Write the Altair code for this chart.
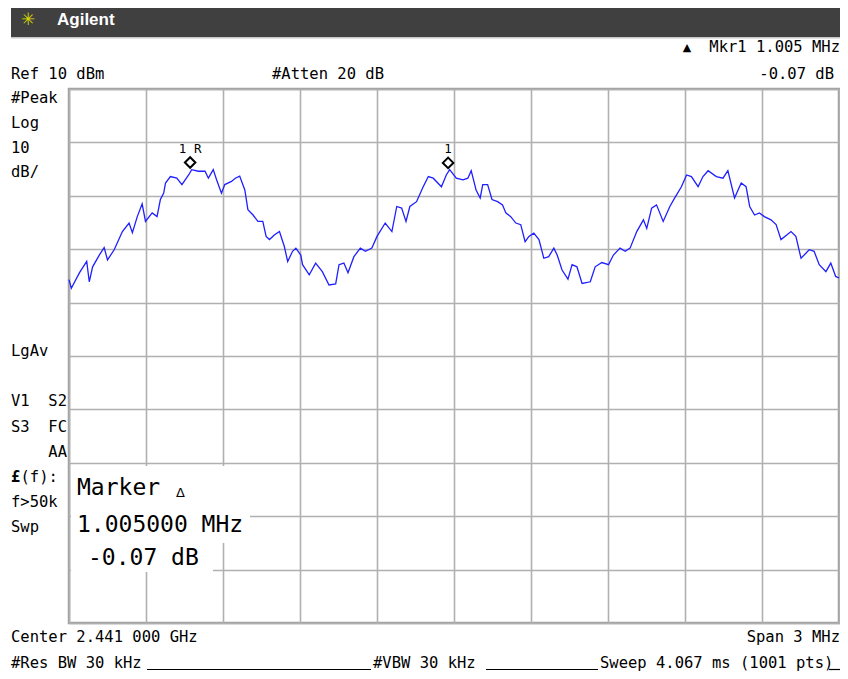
import altair as alt
import pandas as pd

# ---------------- data ----------------
# frequency offset from centre (MHz), centre = 2.441 GHz, span 3 MHz
freq_mhz = [
    -1.500, -1.491, -1.459, -1.431, -1.421, -1.408, -1.382, -1.363, -1.350, -1.324,
    -1.292, -1.266, -1.253, -1.234, -1.215, -1.202, -1.176, -1.157, -1.144, -1.131,
    -1.124, -1.105, -1.080, -1.060, -1.034, -1.022, -0.996, -0.970, -0.957, -0.938,
    -0.925, -0.906, -0.893, -0.867, -0.852, -0.835, -0.815, -0.803, -0.783, -0.764,
    -0.745, -0.732, -0.719, -0.699, -0.680, -0.661, -0.648, -0.629, -0.616, -0.597,
    -0.590, -0.564, -0.539, -0.513, -0.487, -0.461, -0.448, -0.429, -0.413, -0.390,
    -0.365, -0.345, -0.320, -0.300, -0.268, -0.242, -0.223, -0.204, -0.187, -0.172,
    -0.146, -0.120, -0.100, -0.081, -0.049, -0.030, -0.017, 0.009, 0.035, 0.054,
    0.067, 0.086, 0.102, 0.112, 0.131, 0.148, 0.170, 0.189, 0.202, 0.221,
    0.241, 0.260, 0.277, 0.292, 0.311, 0.331, 0.350, 0.369, 0.389, 0.402,
    0.421, 0.444, 0.460, 0.479, 0.499, 0.531, 0.550, 0.576, 0.602, 0.621,
    0.647, 0.667, 0.686, 0.712, 0.738, 0.751, 0.770, 0.789, 0.815, 0.841,
    0.860, 0.886, 0.906, 0.925, 0.951, 0.970, 0.990, 1.022, 1.048, 1.067,
    1.093, 1.119, 1.138, 1.152, 1.171, 1.190, 1.209, 1.235, 1.255, 1.274,
    1.313, 1.332, 1.352, 1.384, 1.403, 1.423, 1.449, 1.468, 1.487, 1.500,
]
level_dbm = [
    -25.7, -27.3, -24.4, -22.3, -26.1, -23.3, -21.1, -19.7, -22.0, -20.1,
    -16.7, -15.1, -16.9, -13.9, -11.5, -14.8, -13.2, -13.9, -10.7, -9.5,
    -7.6, -6.4, -6.7, -7.9, -6.1, -5.1, -5.4, -5.4, -6.7, -5.1,
    -7.0, -9.5, -7.9, -7.3, -6.7, -6.3, -8.9, -12.6, -13.6, -14.8,
    -14.8, -17.6, -18.2, -17.3, -16.7, -19.5, -22.3, -20.4, -19.8, -21.1,
    -22.9, -24.8, -22.6, -24.2, -26.7, -26.5, -22.9, -22.6, -24.4, -21.4,
    -19.8, -20.4, -19.8, -17.6, -15.1, -16.7, -12.0, -12.3, -14.8, -12.0,
    -11.1, -8.3, -6.4, -6.7, -8.3, -6.1, -5.1, -6.7, -7.0, -6.7,
    -5.3, -8.9, -10.4, -7.9, -7.9, -10.7, -11.1, -11.7, -13.2, -13.9,
    -15.1, -15.4, -18.6, -17.6, -17.0, -18.2, -21.7, -21.4, -19.8, -21.1,
    -23.9, -25.6, -22.9, -23.3, -26.4, -26.1, -23.3, -22.5, -22.9, -21.1,
    -19.8, -20.4, -19.8, -16.7, -14.5, -16.1, -12.3, -11.7, -14.8, -12.0,
    -10.4, -8.3, -6.1, -6.4, -8.3, -6.4, -5.3, -6.4, -6.7, -5.3,
    -10.4, -7.6, -8.3, -12.0, -13.6, -13.2, -13.9, -14.5, -15.4, -18.2,
    -16.7, -17.6, -21.7, -20.1, -20.4, -22.9, -24.2, -22.6, -25.1, -25.4,
]

marker_labels = ["1 R", "1"]
marker_freq = [-1.028, -0.023]
marker_level = [-5.08, -5.15]

x_ticks = [-1.5, -1.2, -0.9, -0.6, -0.3, 0.0, 0.3, 0.6, 0.9, 1.2, 1.5]
y_ticks = [10, 0, -10, -20, -30, -40, -50, -60, -70, -80, -90]

trace = pd.DataFrame({"f": freq_mhz, "dbm": level_dbm})
markers = pd.DataFrame({"f": marker_freq, "dbm": marker_level, "lab": marker_labels})
one = pd.DataFrame({"k": [0]})

MONO = "DejaVu Sans Mono"
SZ = 15.5
W = 770
H = 534
R = W + 1  # right edge of drawable area

xs = alt.Scale(domain=[-1.5, 1.5], nice=False, zero=False)
ys = alt.Scale(domain=[-90, 10], nice=False, zero=False)

grid_axis = dict(grid=True, gridColor="#b0b0b0", gridWidth=1.6, labels=False,
                 ticks=False, domain=False, title=None)


def label(text, x, y, size=SZ, align="left", color="black", weight="normal", font=MONO):
    return alt.Chart(one).mark_text(
        text=text, align=align, baseline="middle", fontSize=size,
        color=color, fontWeight=weight, font=font
    ).encode(x=alt.value(x), y=alt.value(y))


def box(x, x2, y, y2, color):
    return alt.Chart(one).mark_rect(color=color).encode(
        x=alt.value(x), x2=alt.value(x2), y=alt.value(y), y2=alt.value(y2))


def hline(x, x2, y, color="black", w=1.2):
    return alt.Chart(one).mark_rule(color=color, strokeWidth=w).encode(
        x=alt.value(x), x2=alt.value(x2), y=alt.value(y))


line = alt.Chart(trace).mark_line(color="#1f1fff", strokeWidth=1.3).encode(
    x=alt.X("f:Q", scale=xs, axis=alt.Axis(values=x_ticks, **grid_axis)),
    y=alt.Y("dbm:Q", scale=ys, axis=alt.Axis(values=y_ticks, **grid_axis)),
)

diamonds = alt.Chart(markers).mark_point(
    shape="diamond", size=110, filled=True, fill="white", stroke="black",
    strokeWidth=2, opacity=1
).encode(x=alt.X("f:Q", scale=xs), y=alt.Y("dbm:Q", scale=ys), yOffset=alt.value(-7))

mlabels = alt.Chart(markers).mark_text(fontSize=12.5, font=MONO, color="black").encode(
    x=alt.X("f:Q", scale=xs), y=alt.Y("dbm:Q", scale=ys), yOffset=alt.value(-21),
    text="lab:N")

layers = [
    line,
    # header bar
    box(-58, R, -81, -52, "#404040"),
    hline(-58, R, -51.3, "#c8c8c8", 1.5),
    label("\u2733", -41, -69, size=17, align="center", color="#d8d800", font="DejaVu Sans"),
    label("Agilent", -12, -69, size=17, color="white", weight="bold", font="Liberation Sans"),
    # top annotations
    label("\u25b2", 618, -41, size=11, align="center", font="DejaVu Sans"),
    label("Mkr1  1.005 MHz", R, -42, align="right"),
    label("Ref 10 dBm", -58, -15),
    label("#Atten 20 dB", 203, -15),
    label("-0.07 dB", 765, -15, align="right"),
    # left annotations
    label("#Peak", -58, 9),
    label("Log", -58, 34),
    label("10", -58, 59),
    label("dB/", -58, 83),
    label("LgAv", -58, 262),
    label("V1", -58, 312),
    label("S2", -2, 312, align="right"),
    label("S3", -58, 338),
    label("FC", -2, 338, align="right"),
    label("AA", -2, 363, align="right"),
    label("\u00a3", -58, 388, weight="bold"),
    label("(f):", -48.5, 388),
    label("f>50k", -58, 413),
    label("Swp", -58, 438),
    # marker readout box
    box(2, 181, 377, 454, "white"),
    box(2, 144, 454, 483, "white"),
    label("Marker", 8, 399, size=23),
    label("\u0394", 107, 404, size=13, font="DejaVu Sans"),
    label("1.005000 MHz", 8, 436, size=23),
    label("-0.07 dB", 19, 469, size=23),
    # bottom annotations
    label("Center 2.441 000 GHz", -58, 548),
    label("Span 3 MHz", R, 548, align="right"),
    label("#Res BW 30 kHz", -58, 574),
    hline(78, 302, 580.5),
    label("#VBW 30 kHz", 304, 574),
    hline(417, 529, 580.5),
    label("Sweep 4.067 ms (1001 pts)", 531, 574),
    hline(760, R, 580.5),
    # markers
    diamonds,
    mlabels,
]

chart = alt.layer(*layers).properties(
    width=W,
    height=H,
    autosize=alt.AutoSizeParams(type="none"),
    padding={"left": 61, "top": 81, "right": 1, "bottom": 48},
    background="white",
).configure_view(stroke="#a0a0a0", strokeWidth=2.5)

chart.save("out.html", embed_options={"renderer": "svg", "actions": False})
